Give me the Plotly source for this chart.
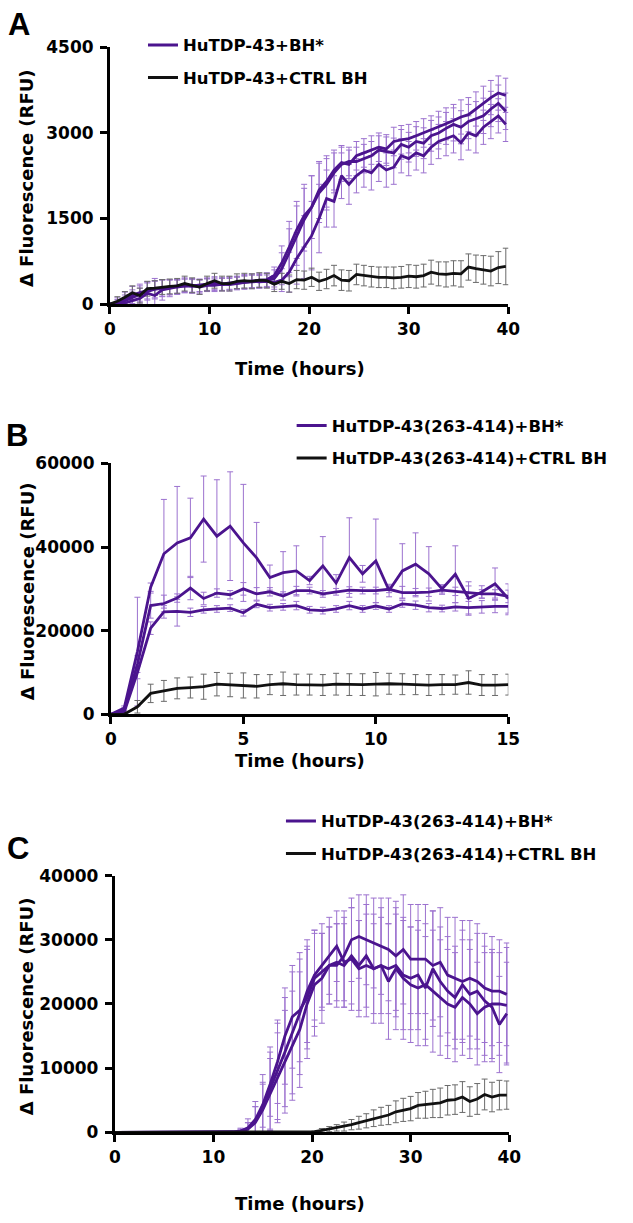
import plotly.graph_objects as go

# ---------------- data ----------------
# Panel A: HuTDP-43 (readings every 0.75 h)
tA = [round(0.75 * i, 2) for i in range(54)]
A_bh1 = [0, 30, 90, 160, 200, 240, 270, 280, 300, 310, 340, 320, 330, 350, 370, 350, 370, 380, 400, 410,
         420, 430, 500, 720, 1000, 1300, 1550, 1700, 2000, 2150, 2350, 2480, 2450, 2600, 2650, 2700, 2750, 2720,
         2850, 2880, 2900, 2950, 3000, 3050, 3100, 3160, 3220, 3280, 3320, 3420, 3520, 3620, 3700, 3660]
A_bh1_err = [0, 80, 120, 150, 150, 150, 180, 150, 130, 120, 120, 120, 110, 110, 110, 110, 110, 110, 120, 120,
             120, 120, 150, 300, 450, 500, 550, 550, 500, 450, 350, 300, 250, 250, 250, 250, 250, 250, 250, 250,
             250, 250, 250, 250, 280, 280, 280, 300, 300, 300, 300, 300, 300, 300]
A_bh2 = [0, 20, 60, 120, 170, 220, 260, 280, 290, 300, 320, 310, 320, 340, 350, 340, 360, 370, 380, 390,
         400, 410, 450, 620, 900, 1200, 1480, 1700, 1950, 2100, 2300, 2450, 2500, 2500, 2550, 2600, 2700, 2680,
         2650, 2800, 2750, 2850, 2820, 2950, 3000, 3080, 3150, 3100, 3200, 3250, 3300, 3420, 3520, 3380]
A_bh2_err = [0, 60, 100, 130, 150, 150, 150, 140, 130, 120, 120, 120, 110, 110, 110, 110, 110, 110, 120, 120,
             120, 120, 150, 280, 420, 520, 550, 550, 520, 450, 350, 300, 250, 250, 250, 250, 250, 250, 260, 260,
             260, 260, 270, 270, 280, 280, 290, 290, 300, 300, 310, 310, 320, 320]
A_bh3 = [0, 0, 20, 60, 100, 190, 150, 250, 280, 300, 320, 330, 300, 330, 330, 350, 340, 360, 380, 400,
         390, 400, 380, 420, 560, 800, 1000, 1200, 1500, 1850, 1800, 2250, 2100, 2250, 2350, 2300, 2450, 2350,
         2400, 2600, 2550, 2650, 2600, 2750, 2850, 2900, 2950, 2830, 3000, 2950, 3100, 3200, 3300, 3150]
A_bh3_err = [0, 50, 100, 150, 180, 200, 250, 180, 150, 130, 120, 120, 120, 110, 110, 110, 110, 110, 110, 110,
             110, 110, 120, 200, 350, 450, 550, 600, 600, 500, 450, 400, 350, 300, 300, 300, 300, 300, 300, 300,
             300, 300, 300, 300, 300, 300, 300, 300, 300, 300, 300, 300, 300, 300]
A_ctrl = [0, 50, 120, 200, 150, 270, 280, 300, 310, 320, 360, 330, 300, 360, 410, 360, 360, 400, 410, 400,
          420, 410, 350, 400, 360, 430, 420, 470, 400, 440, 500, 420, 410, 520, 500, 480, 470, 470, 460, 470,
          490, 480, 500, 560, 530, 520, 540, 530, 650, 620, 600, 580, 640, 660]
A_ctrl_err = [0, 80, 100, 120, 130, 130, 130, 130, 130, 130, 130, 130, 130, 130, 130, 130, 130, 130, 130, 130,
              130, 130, 130, 140, 150, 160, 160, 160, 160, 170, 180, 180, 180, 180, 180, 180, 180, 180, 190, 190,
              200, 200, 200, 210, 210, 220, 220, 230, 230, 240, 250, 260, 280, 320]

# Panel B: HuTDP-43(263-414) (readings every 0.5 h)
tB = [round(0.5 * i, 2) for i in range(31)]
B_bh1 = [0, 1500, 15000, 30400, 38400, 41000, 42200, 46700, 42600, 45000, 41000, 37400, 32700, 33900, 34300,
         32000, 35500, 31400, 37500, 33600, 36700, 29600, 34300, 35900, 33600, 30000, 33500, 27700, 29250, 31200, 27700]
B_bh1_err = [0, 500, 13000, 1000, 13000, 13500, 9500, 10300, 13500, 13000, 14000, 8500, 3000, 5000, 6000,
             1000, 7000, 2000, 9500, 2000, 10000, 1500, 6500, 7500, 6500, 1000, 6800, 4000, 1500, 3800, 3500]
B_bh2 = [0, 1000, 12000, 26000, 26500, 27800, 30200, 27700, 29000, 28600, 30000, 28800, 29300, 28300, 29600,
         29600, 28800, 29300, 29700, 29600, 29600, 29900, 29100, 29100, 29200, 29700, 29400, 29200, 28800, 28800, 28200]
B_bh2_err = [0, 500, 2000, 3000, 2000, 1000, 2800, 1500, 1000, 1000, 1500, 1500, 1000, 1000, 1000,
             800, 800, 800, 800, 800, 800, 800, 1500, 1000, 1000, 1000, 1000, 1500, 1000, 1000, 1500]
B_bh3 = [0, 500, 10000, 20600, 24500, 24600, 24400, 25000, 25200, 25400, 24300, 26300, 25500, 25700, 26000,
         25000, 24800, 25200, 26000, 25200, 25900, 25200, 26400, 26100, 25500, 25300, 25700, 25500, 25700, 25800, 25800]
B_bh3_err = [0, 300, 1500, 1500, 1500, 3500, 1000, 800, 800, 800, 800, 800, 800, 800, 1000,
             800, 800, 800, 1000, 800, 800, 800, 800, 1000, 1000, 800, 1000, 1500, 1500, 1500, 2000]
B_ctrl = [0, 0, 1800, 5000, 5600, 6200, 6400, 6600, 7200, 7000, 6900, 6700, 7100, 7300, 7100,
          7100, 7000, 7200, 7100, 7100, 7200, 7300, 7200, 7100, 7000, 7100, 7100, 7600, 7000, 7000, 7100]
B_ctrl_err = [0, 0, 1500, 2200, 2500, 2500, 2500, 3000, 2800, 2800, 3000, 2800, 2400, 2800, 2500,
              2500, 2500, 2600, 2600, 2600, 2800, 2500, 2500, 2400, 2500, 2400, 2300, 2800, 2500, 2500, 2500]

# Panel C: HuTDP-43(263-414) (readings every 0.75 h)
tC = [round(0.75 * i, 2) for i in range(54)]
C_bh1 = [0, 0, 0, 0, 0, 0, 0, 0, 0, 0, 0, 0, 0, 0, 0, 0,
         50, 200, 700, 2000, 4300, 7500, 11000, 15000, 18000, 19000, 21000, 24000, 25000, 26000, 26000, 27500,
         30000, 30500, 30000, 29500, 29000, 28500, 27500, 28500, 27000, 27000, 27000, 26000, 26500, 24500, 24000,
         23500, 24000, 23500, 22500, 22000, 22000, 21500]
C_bh1_err = [0, 0, 0, 0, 0, 0, 0, 0, 0, 0, 0, 0, 0, 0, 0, 0,
             100, 300, 800, 2000, 3500, 5000, 6500, 7500, 8000, 8000, 8000, 7500, 6000, 6000, 6500, 7000,
             6500, 6500, 7000, 7000, 7500, 8000, 8500, 8500, 8500, 8500, 8500, 8500, 8500, 9000, 9500,
             9500, 9000, 9000, 8500, 8500, 8000, 8000]
C_bh2 = [0, 0, 0, 0, 0, 0, 0, 0, 0, 0, 0, 0, 0, 0, 0, 0,
         0, 150, 600, 1800, 4000, 6800, 9500, 12500, 15500, 18500, 22000, 24500, 26000, 27500, 29000, 26500,
         27000, 25500, 26000, 25500, 26000, 23500, 25500, 24000, 23000, 22500, 23000, 22000, 21000, 20000, 19500,
         21000, 20000, 18500, 19500, 20000, 20000, 19800]
C_bh2_err = [0, 0, 0, 0, 0, 0, 0, 0, 0, 0, 0, 0, 0, 0, 0, 0,
             100, 500, 1500, 3000, 5000, 6500, 7500, 8500, 9500, 9500, 8000, 7000, 6500, 6000, 5500, 7000,
             8000, 7500, 8000, 8500, 9000, 9000, 9500, 9500, 9000, 9000, 9500, 9500, 9000, 8500, 8500,
             9000, 8500, 8000, 8500, 8500, 8000, 9000]
C_bh3 = [0, 0, 0, 0, 0, 0, 0, 0, 0, 0, 0, 0, 0, 0, 0, 0,
         0, 100, 500, 1500, 3500, 6000, 8500, 11000, 13500, 16000, 20000, 23000, 24000, 26000, 26500, 26000,
         27500, 26000, 27500, 25500, 26000, 25500, 26000, 24500, 24000, 24500, 22500, 25500, 23500, 22000, 21000,
         23000, 21500, 22000, 20500, 19500, 16800, 18500]
C_bh3_err = [0, 0, 0, 0, 0, 0, 0, 0, 0, 0, 0, 0, 0, 0, 0, 0,
             50, 300, 1000, 2500, 4000, 5500, 7000, 8000, 8500, 9000, 8500, 8000, 7000, 6000, 6000, 6500,
             7500, 7000, 8000, 7000, 7500, 7000, 8000, 8500, 8000, 8500, 8000, 9000, 8500, 8500, 8000,
             8500, 8500, 9000, 8500, 8500, 7500, 8000]
C_ctrl = [0, 0, 0, 0, 0, 0, 0, 0, 0, 0, 0, 0, 0, 0, 0, 0, 0, 0, 0, 0, 0, 0, 0, 0, 0, 0, 0,
          100, 300, 500, 700, 900, 1200, 1500, 1800, 2200, 2500, 2700, 3200, 3500, 3700, 4200, 4300, 4500,
          4600, 5000, 5100, 5500, 4800, 5200, 5900, 5500, 5800, 5800]
C_ctrl_err = [0, 0, 0, 0, 0, 0, 0, 0, 0, 0, 0, 0, 0, 0, 0, 0, 0, 0, 0, 0, 0, 0, 0, 0, 0, 0, 0,
              100, 300, 400, 500, 700, 800, 1000, 1100, 1300, 1400, 1500, 1700, 1800, 1900, 2000, 2100, 2200,
              2300, 2300, 2300, 2400, 2300, 2400, 2400, 2300, 2300, 2200]

LABELS_A = ["HuTDP-43+BH*", "HuTDP-43+CTRL BH"]
LABELS_BC = ["HuTDP-43(263-414)+BH*", "HuTDP-43(263-414)+CTRL BH"]
PANEL_LETTERS = ["A", "B", "C"]
Y_TICKS_A = [0, 1500, 3000, 4500]
Y_TICKS_B = [0, 20000, 40000, 60000]
Y_TICKS_C = [0, 10000, 20000, 30000, 40000]

# ---------------- style ----------------
W, H = 633, 1223
PURPLE = "#4B148E"
PURPLE_ERR = "#9C72CF"
BLACK = "#111111"
GREY_ERR = "#6A6A6A"
FONT = "DejaVu Sans"


def fx(p):
    return p / W


def fy(p):
    return 1 - p / H


panels = [
    dict(t=tA, bh=[(A_bh1, A_bh1_err), (A_bh2, A_bh2_err), (A_bh3, A_bh3_err)], ctrl=(A_ctrl, A_ctrl_err),
         labels=LABELS_A, xr=[0, 40], dtick=10, yticks=Y_TICKS_A,
         box=(107, 517, 38, 299), legend_xy=(141, 18), letter_xy=(13, 15), ytitle_x=21, xtitle_y=364),
    dict(t=tB, bh=[(B_bh1, B_bh1_err), (B_bh2, B_bh2_err), (B_bh3, B_bh3_err)], ctrl=(B_ctrl, B_ctrl_err),
         labels=LABELS_BC, xr=[0, 15], dtick=5, yticks=Y_TICKS_B,
         box=(108, 517, 461, 716), legend_xy=(294, 405), letter_xy=(11, 433), ytitle_x=22, xtitle_y=763),
    dict(t=tC, bh=[(C_bh1, C_bh1_err), (C_bh2, C_bh2_err), (C_bh3, C_bh3_err)], ctrl=(C_ctrl, C_ctrl_err),
         labels=LABELS_BC, xr=[0, 40], dtick=10, yticks=Y_TICKS_C,
         box=(112, 518, 880, 1141), legend_xy=(283, 807), letter_xy=(12, 852), ytitle_x=22, xtitle_y=1213),
]

fig = go.Figure()
layout = dict(width=W, height=H, margin=dict(l=0, r=0, t=0, b=0),
              paper_bgcolor="white", plot_bgcolor="white", showlegend=True)
annotations = []

for i, p in enumerate(panels):
    k = "" if i == 0 else str(i + 1)
    xa, ya = "x" + k, "y" + k
    leg = "legend" + k
    x0, x1, y0, y1 = p["box"]
    # error bars first (below all lines)
    for vals, err in p["bh"]:
        fig.add_trace(go.Scatter(x=p["t"], y=vals, mode="markers", xaxis=xa, yaxis=ya,
                                 marker=dict(size=1, color="rgba(0,0,0,0)"),
                                 error_y=dict(type="data", array=err, visible=True, color=PURPLE_ERR,
                                              thickness=1, width=3),
                                 showlegend=False, hoverinfo="skip", cliponaxis=False))
    cv, ce = p["ctrl"]
    fig.add_trace(go.Scatter(x=p["t"], y=cv, mode="markers", xaxis=xa, yaxis=ya,
                             marker=dict(size=1, color="rgba(0,0,0,0)"),
                             error_y=dict(type="data", array=ce, visible=True, color=GREY_ERR,
                                          thickness=1, width=3),
                             showlegend=False, hoverinfo="skip", cliponaxis=False))
    for vals, err in p["bh"]:
        fig.add_trace(go.Scatter(x=p["t"], y=vals, mode="lines", xaxis=xa, yaxis=ya,
                                 line=dict(color=PURPLE, width=2.8), showlegend=False))
    fig.add_trace(go.Scatter(x=p["t"], y=cv, mode="lines", xaxis=xa, yaxis=ya,
                             line=dict(color=BLACK, width=2.8), showlegend=False))
    # legend entries
    fig.add_trace(go.Scatter(x=[None], y=[None], mode="lines", xaxis=xa, yaxis=ya, name=p["labels"][0],
                             line=dict(color=PURPLE, width=3), legend=leg, legendgroup="bh" + k))
    fig.add_trace(go.Scatter(x=[None], y=[None], mode="lines", xaxis=xa, yaxis=ya, name=p["labels"][1],
                             line=dict(color=BLACK, width=3), legend=leg, legendgroup="ctrl" + k))

    common = dict(showline=True, linewidth=3, linecolor="black", ticks="outside", ticklen=7, tickwidth=3,
                  tickcolor="black", showgrid=False, zeroline=False,
                  tickfont=dict(family=FONT, size=17, color="black", weight="bold"))
    layout["xaxis" + k] = dict(common, domain=[fx(x0), fx(x1)], range=p["xr"], dtick=p["dtick"], tick0=0,
                               anchor=ya, tickformat="d")
    layout["yaxis" + k] = dict(common, domain=[fy(y1), fy(y0)], range=[0, p["yticks"][-1]],
                               tickvals=p["yticks"], anchor=xa, tickformat="d", ticklabelstandoff=3)
    lx, ly = p["legend_xy"]
    layout[leg] = dict(x=fx(lx), y=fy(ly), xanchor="left", yanchor="top", bgcolor="rgba(0,0,0,0)",
                       font=dict(family=FONT, size=16.5, color="black", weight="bold"),
                       tracegroupgap=8, itemwidth=30, traceorder="grouped")
    # panel letter
    annotations.append(dict(text=PANEL_LETTERS[i], x=fx(p["letter_xy"][0]), y=fy(p["letter_xy"][1]),
                            xref="paper", yref="paper", showarrow=False, xanchor="center", yanchor="middle",
                            font=dict(family="Liberation Sans", size=31, color="black", weight="bold")))
    # axis titles
    annotations.append(dict(text="Δ Fluorescence (RFU)", x=fx(p["ytitle_x"]), y=fy((y0 + y1) / 2 + 2),
                            xref="paper", yref="paper", showarrow=False, textangle=-90,
                            xanchor="center", yanchor="middle",
                            font=dict(family=FONT, size=18, color="black", weight="bold")))
    annotations.append(dict(text="Time (hours)", x=fx(303), y=fy(p["xtitle_y"]),
                            xref="paper", yref="paper", showarrow=False, xanchor="center", yanchor="middle",
                            font=dict(family=FONT, size=18, color="black", weight="bold")))

layout["annotations"] = annotations
fig.update_layout(**layout)

PAGE_FIX = ("var gd=document.getElementById('{plot_id}');"
            "gd.style.position='absolute';gd.style.left='0px';gd.style.top='0px';"
            "document.body.style.margin='0px';document.documentElement.style.overflow='hidden';"
            "document.body.style.overflow='hidden';")
fig.write_html("out.html", config={"displayModeBar": False}, post_script=PAGE_FIX)
